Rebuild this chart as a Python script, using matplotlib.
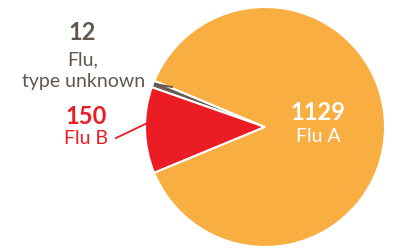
import matplotlib.pyplot as plt

labels = ["Flu, type unknown", "Flu B", "Flu A"]
counts = [12, 150, 1129]
colors = ["#6b5d52", "#ec1c24", "#f9ae42"]

fig = plt.figure(figsize=(4, 2.5), dpi=100)
ax = fig.add_axes([0, 0, 1, 1])

ax.pie(counts, colors=colors, startangle=157.3, counterclock=True,
       center=(265, 123), radius=120,
       wedgeprops=dict(edgecolor="white", linewidth=1.5))
ax.set_xlim(0, 400)
ax.set_ylim(0, 250)
ax.set_aspect("equal")
ax.axis("off")

font = "Lato"
gray = "#62574f"

ax.text(82, 217, str(counts[0]), ha="center", va="center", fontsize=17,
        fontweight="bold", color=gray, family=font)
ax.text(83, 190, "Flu,", ha="center", va="center", fontsize=14, color=gray, family=font)
ax.text(84, 168, "type unknown", ha="center", va="center", fontsize=14, color=gray, family=font)
ax.plot([155, 172], [166, 163], color=gray, lw=1.3)

ax.text(86, 134, str(counts[1]), ha="center", va="center", fontsize=17,
        fontweight="bold", color=colors[1], family=font)
ax.text(86, 111, "Flu B", ha="center", va="center", fontsize=14, color=colors[1], family=font)
ax.plot([116, 158], [112, 132], color=colors[1], lw=1.3)

ax.text(318, 137, str(counts[2]), ha="center", va="center", fontsize=17,
        fontweight="bold", color="white", family=font)
ax.text(318, 114, "Flu A", ha="center", va="center", fontsize=14, color="white", family=font)

fig.savefig("out.png", dpi=100)
